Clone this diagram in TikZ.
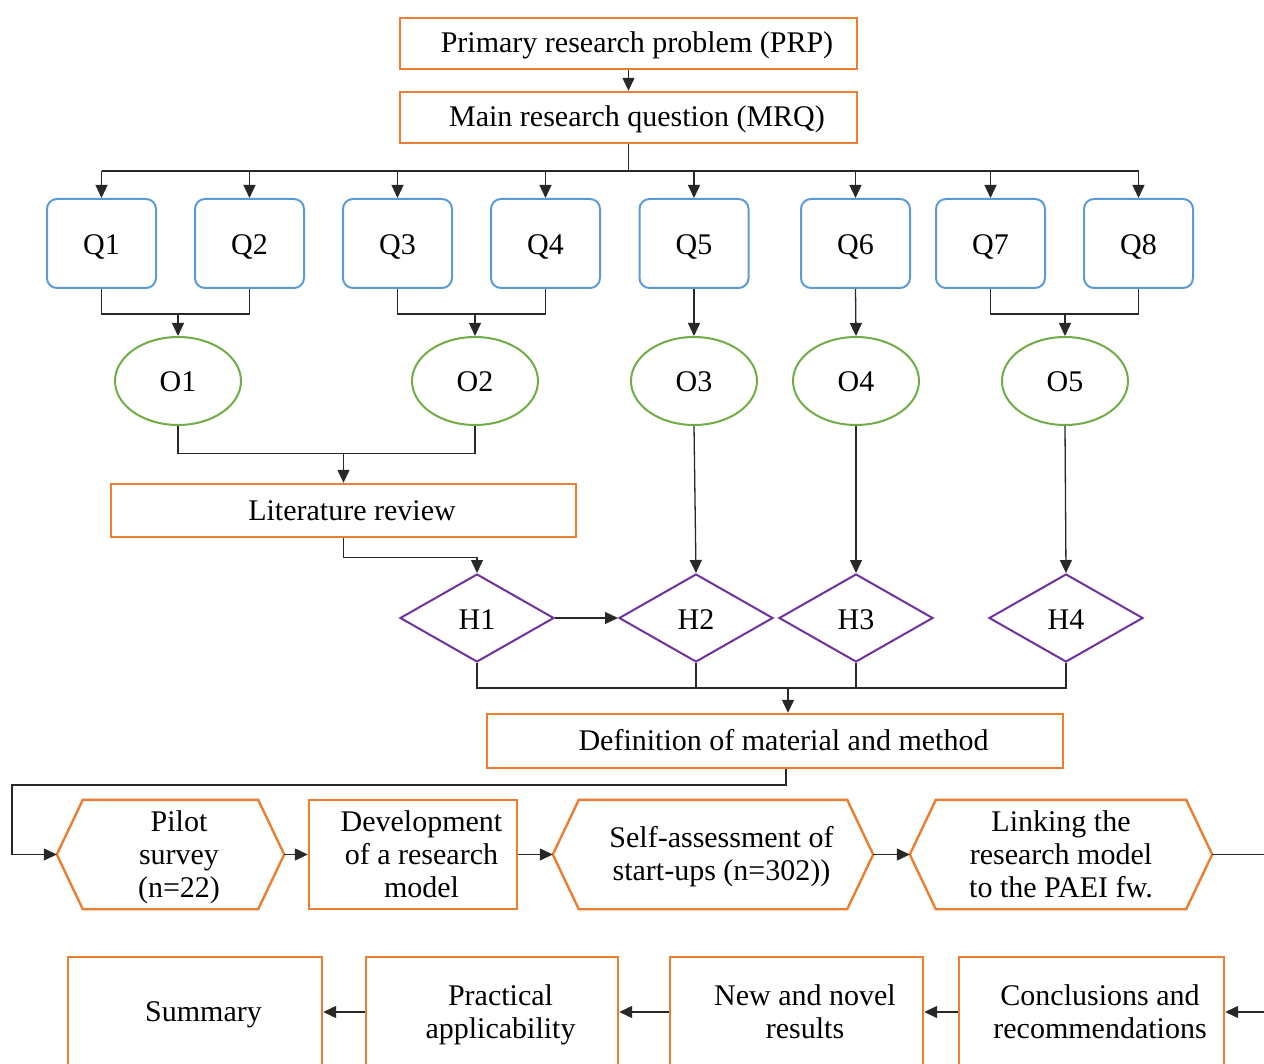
\documentclass[tikz,border=0pt]{standalone}
\usepackage{fontspec}
\setmainfont{Liberation Serif}
\usetikzlibrary{arrows.meta,shapes.geometric,calc}
\definecolor{boxorange}{RGB}{237,125,49}
\definecolor{qblue}{RGB}{91,155,213}
\definecolor{ogreen}{RGB}{112,173,71}
\definecolor{hpurple}{RGB}{112,48,160}
\definecolor{linkgray}{RGB}{40,40,40}
% line box of fixed height and depth, so lines sit like in a word processor
\newcommand{\lb}{\rule[-7pt]{0pt}{33pt}}
% small left pad so text in the orange frames sits slightly right of centre
\newcommand{\txtpad}{\hspace*{17pt}\lb}

\begin{document}
\begin{tikzpicture}[x=1pt,y=-1pt,
  every node/.style={font=\fontsize{30}{33}\selectfont, inner sep=0pt, align=center},
  obox/.style={draw=boxorange, line width=2.4pt, rectangle},
  hexbox/.style={rectangle, minimum height=109pt},
  hexline/.style={draw=boxorange, line width=2.4pt, line join=miter},
  single/.style={text height=27.5pt, text depth=5.5pt},
  qbox/.style={single, draw=qblue, line width=2pt, rounded corners=10pt, minimum width=109pt, minimum height=89pt},
  oell/.style={single, draw=ogreen, line width=2pt, ellipse, minimum width=126pt, minimum height=88pt},
  hdia/.style={single, draw=hpurple, line width=2pt, diamond, aspect=1.75, minimum width=154pt, minimum height=88pt},
  link/.style={draw=linkgray, line width=1.3pt},
  arr/.style={link, -{Triangle[length=13pt,width=12pt]}}
]
\useasboundingbox (0,0) rectangle (1264,1064);
\clip (0,0) rectangle (1264,1064);

% top of the hierarchy
\node[obox, minimum width=457pt, minimum height=51pt] (prp) at (628.5,43.5) {\txtpad Primary research problem (PRP)};
\node[obox, minimum width=457pt, minimum height=51pt] (mrq) at (628.5,117.5) {\txtpad Main research question (MRQ)};

% research questions
\node[qbox] (q1) at (101.5,243.5) {Q1};
\node[qbox] (q2) at (249.5,243.5) {Q2};
\node[qbox] (q3) at (397.5,243.5) {Q3};
\node[qbox] (q4) at (545.5,243.5) {Q4};
\node[qbox] (q5) at (694,243.5) {Q5};
\node[qbox] (q6) at (855.5,243.5) {Q6};
\node[qbox] (q7) at (990.5,243.5) {Q7};
\node[qbox] (q8) at (1138.5,243.5) {Q8};

% objectives
\node[oell] (o1) at (178,381) {O1};
\node[oell] (o2) at (475,381) {O2};
\node[oell] (o3) at (694,381) {O3};
\node[oell] (o4) at (856,381) {O4};
\node[oell] (o5) at (1065,381) {O5};

% literature review
\node[obox, minimum width=465pt, minimum height=53pt] (lit) at (343.5,510.5) {\txtpad Literature review};

% hypotheses
\node[hdia] (h1) at (477,618) {H1};
\node[hdia] (h2) at (696,618) {H2};
\node[hdia] (h3) at (856,618) {H3};
\node[hdia] (h4) at (1066,618) {H4};

% material and method
\node[obox, minimum width=576pt, minimum height=54pt] (def) at (775,741) {\txtpad Definition of material and method};

% process chain
\node[hexbox, minimum width=227pt] (pilot) at (170.5,854.5) {\txtpad Pilot\\\txtpad survey\\\txtpad (n=22)};
\node[obox, minimum width=208pt, minimum height=109pt] (dev) at (413,854.5) {\txtpad Development\\\txtpad of a research\\\txtpad model};
\node[hexbox, minimum width=320pt] (selfa) at (713,854.5) {\txtpad Self-assessment of\\\txtpad start-ups (n=302))};
\node[hexbox, minimum width=302pt] (linkhex) at (1061,854.5) {\lb Linking the\\\lb research model\\\lb to the PAEI fw.};
\foreach \n in {pilot,selfa,linkhex}
  \draw[hexline] (\n.west) -- ($(\n.north west)+(26,0)$) -- ($(\n.north east)+(-26,0)$)
    -- (\n.east) -- ($(\n.south east)+(-26,0)$) -- ($(\n.south west)+(26,0)$) -- cycle;

% outcomes
\node[obox, minimum width=254pt, minimum height=110pt] (summ) at (195,1012) {\txtpad Summary};
\node[obox, minimum width=252pt, minimum height=110pt] (pract) at (492,1012) {\txtpad Practical\\\txtpad applicability};
\node[obox, minimum width=253pt, minimum height=110pt] (novel) at (796.5,1012) {\txtpad New and novel\\\txtpad results};
\node[obox, minimum width=265pt, minimum height=110pt] (concl) at (1091.5,1012) {\txtpad Conclusions and\\\txtpad recommendations};

% ---- connectors ----
\draw[arr] (prp.south) -- (mrq.north);

\coordinate (qbus) at (628.5,171);
\draw[link] (mrq.south) -- (qbus);
\draw[link] (q1.north |- qbus) -- (q8.north |- qbus);
\foreach \q in {q1,q2,q3,q4,q5,q6,q7,q8}
  \draw[arr] (\q.north |- qbus) -- (\q.north);

\coordinate (j12) at ($(q1.south)!0.5!(q2.south)+(0,25)$);
\draw[link] (q1.south) |- (j12) -| (q2.south);
\draw[arr] (o1.north |- j12) -- (o1.north);
\coordinate (j34) at ($(q3.south)!0.5!(q4.south)+(0,25)$);
\draw[link] (q3.south) |- (j34) -| (q4.south);
\draw[arr] (o2.north |- j34) -- (o2.north);
\draw[arr] (q5.south) -- (o3.north);
\draw[arr] (q6.south) -- (o4.north);
\coordinate (j78) at ($(q7.south)!0.5!(q8.south)+(0,25)$);
\draw[link] (q7.south) |- (j78) -| (q8.south);
\draw[arr] (o5.north |- j78) -- (o5.north);

\coordinate (litin) at ($(lit.north)+(0,-29)$);
\draw[link] (o1.south) |- (litin) -| (o2.south);
\draw[arr] (litin) -- (lit.north);
\draw[arr] (lit.south) -- ++(0,19) -| (h1.north);

\draw[arr] (h1.east) -- (h2.west);
\draw[arr] (o3.south) -- (h2.north);
\draw[arr] (o4.south) -- (h3.north);
\draw[arr] (o5.south) -- (h4.north);

\coordinate (hbus) at (788,688);
\draw[link] (h1.south) |- (hbus) -| (h4.south);
\draw[link] (h2.south) -- (h2.south |- hbus);
\draw[link] (h3.south) -- (h3.south |- hbus);
\draw[arr] (hbus) -- (hbus |- def.north);

\coordinate (defout) at ($(def.south)+(11,0)$);
\coordinate (loopL) at (12,785);
\draw[arr] (defout) |- (loopL) |- (pilot.west);
\draw[arr] (pilot.east) -- (dev.west);
\draw[arr] (dev.east) -- (selfa.west);
\draw[arr] (selfa.east) -- (linkhex.west);

\coordinate (outR) at (1270,854.5);
\draw[link] (linkhex.east) -- (outR);
\coordinate (inR) at (1270,1012);
\draw[arr] (inR) -- (concl.east);
\draw[arr] (concl.west) -- (novel.east);
\draw[arr] (novel.west) -- (pract.east);
\draw[arr] (pract.west) -- (summ.east);
\end{tikzpicture}
\end{document}
